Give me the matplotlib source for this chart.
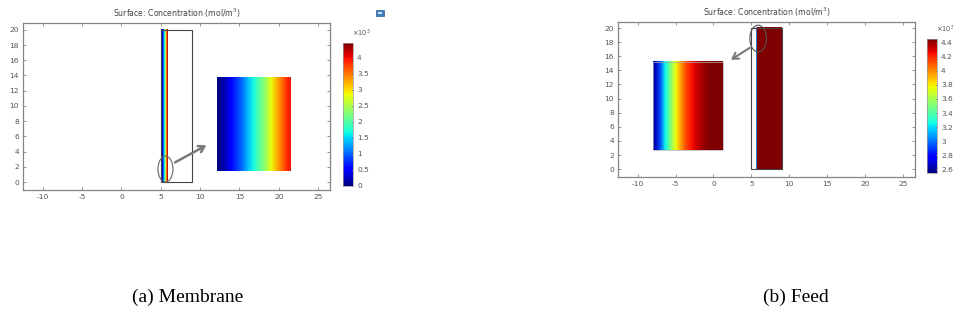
import numpy as np
import matplotlib
matplotlib.use("Agg")
import matplotlib.pyplot as plt
from matplotlib.patches import Rectangle, Ellipse, FancyArrowPatch

plt.rcParams["axes.unicode_minus"] = False

# ---------------- data ----------------
x_ticks = [-10, -5, 0, 5, 10, 15, 20, 25]
y_ticks = [0, 2, 4, 6, 8, 10, 12, 14, 16, 18, 20]
title_text = "Surface: Concentration (mol/m$^3$)"
captions = ["(a) Membrane", "(b) Feed"]

# concentration (x10^3 mol/m^3) sampled across each region (left -> right)
membrane_strip = [0.0, 0.15, 0.5, 1.0, 1.5, 2.0, 2.6, 3.2, 3.8, 4.3]
membrane_zoom = [0.05, 0.25, 0.5, 0.8, 1.05, 1.4, 1.7, 2.05, 2.35, 2.8, 3.2, 3.55, 3.9]
membrane_clim = (0.0, 4.45)
membrane_cticks = [0, 0.5, 1, 1.5, 2, 2.5, 3, 3.5, 4]

feed_strip = [2.7, 3.1, 3.6, 4.0, 4.3]
feed_bulk = [4.45, 4.45]
feed_zoom = [2.65, 2.95, 3.25, 3.5, 3.75, 3.95, 4.12, 4.22, 4.3, 4.37, 4.42, 4.45, 4.45, 4.45]
feed_clim = (2.55, 4.45)
feed_cticks = [2.6, 2.8, 3.0, 3.2, 3.4, 3.6, 3.8, 4.0, 4.2, 4.4]

# ---------------- figure ----------------
W, H = 954, 324
fig = plt.figure(figsize=(W / 100, H / 100), dpi=100)
fig.patch.set_facecolor("white")

def fr(x0, y0, x1, y1):
    return [x0 / W, 1 - y1 / H, (x1 - x0) / W, (y1 - y0) / H]

tick_col = "#555555"
frame_col = "#858585"
cmap = plt.get_cmap("jet")

def style_axes(ax, xlim, ylim):
    ax.set_xlim(*xlim)
    ax.set_ylim(*ylim)
    ax.set_xticks(x_ticks)
    ax.set_yticks(y_ticks)
    ax.tick_params(direction="in", length=2.5, width=0.6, colors=frame_col,
                   labelcolor=tick_col, labelsize=5.4, top=True, right=True, pad=3)
    for s in ax.spines.values():
        s.set_color(frame_col)
        s.set_linewidth(0.9)
    ax.set_title(title_text, fontsize=5.6, color="#444444", pad=4)

def strip(ax, vals, x0, x1, y0, y1, clim):
    arr = np.array([vals, vals, vals])
    ax.imshow(arr, cmap=cmap, vmin=clim[0], vmax=clim[1],
              extent=[x0, x1, y0, y1], aspect="auto", interpolation="bilinear",
              interpolation_stage="rgba", origin="lower", zorder=2)

def colorbar(rect, clim, cticks, labels):
    cax = fig.add_axes(rect)
    grad = np.linspace(clim[0], clim[1], 256).reshape(-1, 1)
    cax.imshow(grad, cmap=cmap, vmin=clim[0], vmax=clim[1], aspect="auto",
               origin="lower", extent=[0, 1, clim[0], clim[1]])
    cax.set_xticks([])
    cax.yaxis.tick_right()
    cax.set_yticks(cticks)
    cax.set_yticklabels(labels)
    cax.tick_params(axis="y", length=1.5, width=0.5, colors="#777777",
                    labelcolor=tick_col, labelsize=5.4, pad=3, direction="in")
    for s in cax.spines.values():
        s.set_color("#999999")
        s.set_linewidth(0.5)
    cax.text(0.9, 1.03, r"$\times$10$^3$", transform=cax.transAxes, fontsize=4.8,
             color=tick_col, ha="left", va="bottom")
    return cax

def fmt(v):
    return ("%g" % v)

# ---- left: membrane ----
ax1 = fig.add_axes(fr(23, 23, 330, 190))
style_axes(ax1, (-12.5, 26.5), (-1.05, 20.9))
strip(ax1, membrane_strip, 5.0, 5.8, 0, 20, membrane_clim)
ax1.add_patch(Rectangle((5, 0), 4, 20, fill=False, ec="#444444", lw=0.8, zorder=3))
strip(ax1, membrane_zoom, 12.2, 21.5, 1.5, 13.8, membrane_clim)
ax1.add_patch(Ellipse((5.6, 1.7), 1.9, 3.4, fill=False, ec="#666666", lw=0.8, zorder=4))
ax1.add_patch(FancyArrowPatch((6.5, 2.4), (11.1, 5.0), arrowstyle="->,head_length=4,head_width=2.5",
                              color="#7a7a7a", lw=1.8, zorder=4, mutation_scale=1))
colorbar(fr(343, 43, 353, 186), membrane_clim, membrane_cticks,
         [fmt(v) for v in membrane_cticks])

# small window icon
fig.patches.append(Rectangle((376 / W, 1 - 16 / H), 8 / W, 6 / H, transform=fig.transFigure,
                             fc="#3f7fc0", ec="#2a5a90", lw=0.5))
fig.patches.append(Rectangle((378 / W, 1 - 14 / H), 4 / W, 2 / H, transform=fig.transFigure,
                             fc="#cfe3f5", ec="none"))

# ---- right: feed ----
ax2 = fig.add_axes(fr(618, 22, 915, 177))
style_axes(ax2, (-12.6, 26.6), (-1.1, 20.85))
strip(ax2, feed_strip, 5.55, 5.8, 0, 20, feed_clim)
strip(ax2, feed_bulk, 5.8, 9.0, 0, 20, feed_clim)
ax2.add_patch(Rectangle((5, 0), 4, 20, fill=False, ec="#444444", lw=0.8, zorder=3))
strip(ax2, feed_zoom, -8.0, 1.2, 2.7, 15.2, feed_clim)
ax2.add_patch(Rectangle((-8.0, 2.7), 9.2, 12.5, fill=False, ec="#b0b0b0", lw=0.5, zorder=3))
ax2.add_patch(Ellipse((5.9, 18.5), 2.2, 3.8, fill=False, ec="#555555", lw=0.8, zorder=4))
ax2.add_patch(FancyArrowPatch((5.1, 17.4), (2.0, 15.3), arrowstyle="->,head_length=4,head_width=2.5",
                              color="#7a7a7a", lw=1.5, zorder=4, mutation_scale=1))
colorbar(fr(927, 39, 937, 173), feed_clim, feed_cticks, [fmt(v) for v in feed_cticks])

# ---- captions ----
fig.text(188 / W, 1 - 297 / H, captions[0], fontsize=14, family="Liberation Serif",
         ha="center", va="center", color="black")
fig.text(796 / W, 1 - 297 / H, captions[1], fontsize=14, family="Liberation Serif",
         ha="center", va="center", color="black")

fig.savefig("out.png", dpi=100, facecolor="white")
